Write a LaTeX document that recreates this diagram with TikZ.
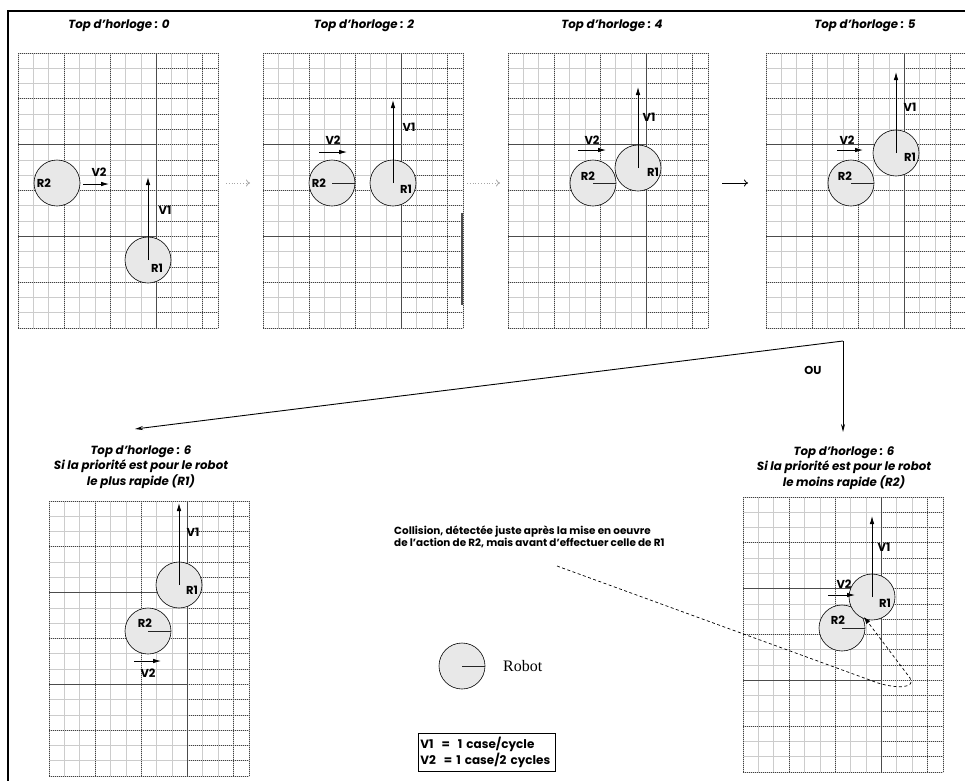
\documentclass[tikz,border=0pt]{standalone}
\usepackage{fontspec}
\setmainfont{Liberation Serif}
\newfontfamily\gfont{Poppins}
\usetikzlibrary{arrows.meta}

\tikzset{
  cellline/.style={gray!40, line width=0.8pt},
  majordot/.style={black!75, line width=0.7pt, dash pattern=on 0.9pt off 1.1pt},
  majorsolid/.style={black!70, line width=0.9pt},
  robot/.style={circle, draw=black, line width=0.6pt, fill=gray!18, minimum size=46pt, inner sep=0pt},
  rlabel/.style={font=\gfont\bfseries\fontsize{11.5}{13}\selectfont, inner sep=0pt},
  paneltitle/.style={font=\gfont\bfseries\itshape\fontsize{11.8}{15.5}\selectfont, align=center, inner sep=0pt},
  radiusline/.style={line width=0.8pt, black!85},
  speed/.style={line width=0.8pt, -{Latex[length=8pt,width=4.5pt]}},
  stepflow/.style={line width=0.8pt, -{To[length=4pt,width=7pt]}},
  branch/.style={line width=0.9pt, -{Stealth[length=8pt,width=4pt]}},
}

% one 13 x 18 floor grid, top-left corner at (#1,#2)
\newcommand\drawpanel[2]{%
  \begin{scope}[shift={(#1,#2)}]
    \foreach \i in {0,...,13} \draw[cellline] (\i*15.385,0) -- (\i*15.385,275);
    \foreach \j in {0,...,18} \draw[cellline] (0,\j*15.278) -- (200,\j*15.278);
    \foreach \j in {1,2,4,5,7,8,10,11,13,14,16,17}
      \draw[majordot] (138.46,\j*15.278) -- (200,\j*15.278);
    \foreach \j in {0,3,9,15,18} \draw[majordot] (0,\j*15.278) -- (200,\j*15.278);
    \foreach \j in {6,12} {
      \draw[majorsolid] (0,\j*15.278) -- (138.46,\j*15.278);
      \draw[majordot] (138.46,\j*15.278) -- (200,\j*15.278);
    }
    \foreach \i in {0,3,6,12,13} \draw[majordot] (\i*15.385,0) -- (\i*15.385,275);
    \draw[majorsolid] (138.46,0) -- (138.46,275);
  \end{scope}}

\begin{document}
\begin{tikzpicture}[x=1pt, y=-1pt]
\useasboundingbox (0,0) rectangle (965,780);
\clip (0,0) rectangle (965,780);

% outer frame
\draw[line width=2.8pt] (8,795) -- (8,11) -- (980,11);

% floor grids
\drawpanel{18}{53}
\drawpanel{263}{53}
\drawpanel{508}{53}
\drawpanel{766}{53}
\drawpanel{49}{501}
\drawpanel{743}{497}
\draw[gray!60!black, line width=1.5pt] (462,213) -- (462,305);

% titles
\node[paneltitle] (t0) at (119,26) {Top d’horloge : 0};
\node[paneltitle] (t2) at (364,26) {Top d’horloge : 2};
\node[paneltitle] (t4) at (612,26) {Top d’horloge : 4};
\node[paneltitle] (t5) at (865,26) {Top d’horloge : 5};
\node[paneltitle] (t6a) at (141,467) {Top d’horloge : 6\\Si la priorité est pour le robot\\le plus rapide (R1)};
\node[paneltitle] (t6b) at (844,468) {Top d’horloge : 6\\Si la priorité est pour le robot\\le moins rapide (R2)};

% ---- clock 0
\node[robot] (p0r2) at (57,183) {};
\node[rlabel] (p0r2l) at (44,183) {R2};
\coordinate (p0v2s) at (83,184); \coordinate (p0v2e) at (109,184);
\draw[speed] (p0v2s) -- (p0v2e);
\node[rlabel] (p0v2l) at (99,172) {V2};
\node[robot] (p0r1) at (148,260) {};
\node[rlabel] (p0r1l) at (157,268) {R1};
\coordinate (p0v1) at (148,177);
\draw[speed] (p0r1.center) -- (p0v1);
\node[rlabel] (p0v1l) at (165,210) {V1};

% ---- clock 2
\node[robot] (p2r2) at (332,183) {};
\draw[radiusline] (p2r2.center) -- (p2r2.east);
\node[rlabel] (p2r2l) at (319,183) {R2};
\coordinate (p2v2s) at (319,152); \coordinate (p2v2e) at (347,152);
\draw[speed] (p2v2s) -- (p2v2e);
\node[rlabel] (p2v2l) at (333,140) {V2};
\node[robot] (p2r1) at (393,183) {};
\node[rlabel] (p2r1l) at (406,189) {R1};
\coordinate (p2v1) at (393,100);
\draw[speed] (p2r1.center) -- (p2v1);
\node[rlabel] (p2v1l) at (409,127) {V1};

% ---- clock 4
\node[robot] (p4r2) at (593,183) {};
\draw[radiusline] (p4r2.center) -- (p4r2.east);
\node[rlabel] (p4r2l) at (588,176) {R2};
\coordinate (p4v2s) at (578,150); \coordinate (p4v2e) at (606,150);
\draw[speed] (p4v2s) -- (p4v2e);
\node[rlabel] (p4v2l) at (592,140) {V2};
\node[robot] (p4r1) at (638,168) {};
\node[rlabel] (p4r1l) at (653,172) {R1};
\coordinate (p4v1) at (638,87);
\draw[speed] (p4r1.center) -- (p4v1);
\node[rlabel] (p4v1l) at (649,117) {V1};

% ---- clock 5
\node[robot] (p5r2) at (851,183) {};
\draw[radiusline] (p5r2.center) -- (p5r2.east);
\node[rlabel] (p5r2l) at (845,176) {R2};
\coordinate (p5v2s) at (837,150); \coordinate (p5v2e) at (863,150);
\draw[speed] (p5v2s) -- (p5v2e);
\node[rlabel] (p5v2l) at (847,140) {V2};
\node[robot] (p5r1) at (896,153) {};
\node[rlabel] (p5r1l) at (910,157) {R1};
\coordinate (p5v1) at (896,72);
\draw[speed] (p5r1.center) -- (p5v1);
\node[rlabel] (p5v1l) at (910,107) {V1};

% ---- clock 6, priority to R1
\node[robot] (qar1) at (179,585) {};
\node[rlabel] (qar1l) at (192,590) {R1};
\coordinate (qav1) at (179,503);
\draw[speed] (qar1.center) -- (qav1);
\node[rlabel] (qav1l) at (193,532) {V1};
\node[robot] (qar2) at (148,631) {};
\draw[radiusline] (qar2.center) -- (qar2.east);
\node[rlabel] (qar2l) at (145,623) {R2};
\coordinate (qav2s) at (134,661); \coordinate (qav2e) at (161,661);
\draw[speed] (qav2s) -- (qav2e);
\node[rlabel] (qav2l) at (148,673) {V2};

% ---- clock 6, priority to R2
\node[robot] (qbr2) at (842,628) {};
\draw[radiusline] (qbr2.center) -- (qbr2.east);
\node[rlabel] (qbr2l) at (838,620) {R2};
\node[robot] (qbr1) at (872,597) {};
\node[rlabel] (qbr1l) at (885,603) {R1};
\coordinate (qbv1) at (872,516);
\draw[speed] (qbr1.center) -- (qbv1);
\node[rlabel] (qbv1l) at (884,547) {V1};
\coordinate (qbv2s) at (828,595); \coordinate (qbv2e) at (855,595);
\draw[speed] (qbv2s) -- (qbv2e);
\node[rlabel] (qbv2l) at (844,584) {V2};

% ---- steps between clock ticks
\coordinate (s1a) at (226,183); \coordinate (s1b) at (250,183);
\draw[stepflow, gray!70, dotted] (s1a) -- (s1b);
\coordinate (s2a) at (467,183); \coordinate (s2b) at (500,183);
\draw[stepflow, gray!70, dotted] (s2a) -- (s2b);
\coordinate (s3a) at (722,183); \coordinate (s3b) at (748,183);
\draw[stepflow] (s3a) -- (s3b);

% ---- the two possible outcomes
\coordinate (split) at (843,341);
\coordinate (outa) at (135,429);
\coordinate (outb) at (843,432);
\draw[branch] (split) -- (outa);
\draw[branch] (split) -- (outb);
\node[rlabel] (ou) at (813,370) {OU};

% ---- collision note
\node[font=\gfont\bfseries\fontsize{10.4}{11}\selectfont, align=left, anchor=north west, inner sep=0pt]
  (note) at (394,526) {Collision, détectée juste après la mise en oeuvre\\de l’action de R2, mais avant d’effectuer celle de R1};
\coordinate (n0) at (557,566);
\coordinate (n1) at (878,683);
\coordinate (n2) at (910,678);
\coordinate (hit) at (864,617);
\draw[line width=0.7pt, dash pattern=on 3pt off 2.5pt, -{Latex[length=7pt,width=5pt]}]
  (n0) -- (n1) .. controls (898,689) and (916,688) .. (n2) -- (hit);

% ---- legend
\node[robot] (lg) at (462,666) {};
\draw[radiusline] (lg.center) -- (lg.east);
\node[font=\fontsize{16}{18}\selectfont, anchor=west, inner sep=0pt] (lgt) at (503,666) {Robot};
\node[draw, line width=0.6pt, anchor=north west, align=left, inner xsep=2pt, inner ysep=4pt,
      text width=133pt, font=\gfont\bfseries\fontsize{12}{13}\selectfont] (key) at (418,733)
  {V1\ \ =\ \ 1 case/cycle\\V2\ \ = 1 case/2 cycles};
\end{tikzpicture}
\end{document}
